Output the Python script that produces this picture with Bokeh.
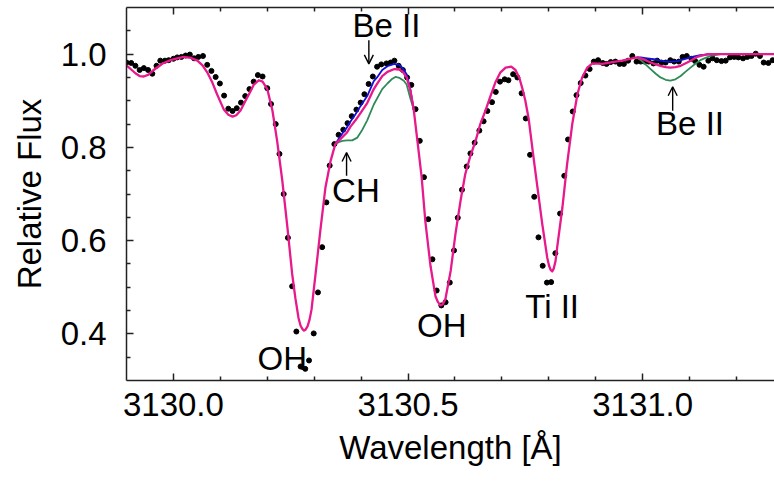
from bokeh.plotting import figure
from bokeh.models import (ColumnDataSource, FixedTicker, PrintfTickFormatter,
                          LinearAxis, Arrow, OpenHead, Range1d)
from bokeh.core.properties import value
from bokeh.embed import file_html
from bokeh.resources import INLINE

# ---------------- data ----------------
obs_wave = [3129.900, 3129.910, 3129.919, 3129.928, 3129.937, 3129.946, 3129.955, 3129.964,
            3129.972, 3129.982, 3129.990, 3130.000, 3130.008, 3130.017, 3130.026, 3130.035,
            3130.044, 3130.053, 3130.063, 3130.072, 3130.081, 3130.090, 3130.099, 3130.108,
            3130.117, 3130.126, 3130.135, 3130.144, 3130.153, 3130.162, 3130.171, 3130.180,
            3130.190, 3130.200, 3130.208, 3130.218, 3130.226, 3130.235, 3130.244, 3130.253,
            3130.262, 3130.271, 3130.281, 3130.289, 3130.299, 3130.308, 3130.317, 3130.326,
            3130.333, 3130.343, 3130.352, 3130.362, 3130.371, 3130.380, 3130.390, 3130.399,
            3130.407, 3130.416, 3130.425, 3130.434, 3130.443, 3130.454, 3130.463, 3130.471,
            3130.480, 3130.489, 3130.498, 3130.507, 3130.516, 3130.525, 3130.534, 3130.543,
            3130.552, 3130.561, 3130.571, 3130.580, 3130.589, 3130.598, 3130.606, 3130.615,
            3130.625, 3130.633, 3130.642, 3130.652, 3130.661, 3130.669, 3130.679, 3130.687,
            3130.696, 3130.706, 3130.714, 3130.724, 3130.733, 3130.742, 3130.751, 3130.760,
            3130.769, 3130.778, 3130.787, 3130.796, 3130.805, 3130.814, 3130.824, 3130.833,
            3130.841, 3130.851, 3130.859, 3130.868, 3130.878, 3130.887, 3130.896, 3130.905,
            3130.915, 3130.923, 3130.932, 3130.942, 3130.951, 3130.960, 3130.969, 3130.978,
            3130.987, 3130.996, 3131.004, 3131.013, 3131.023, 3131.031, 3131.040, 3131.049,
            3131.059, 3131.067, 3131.077, 3131.085, 3131.094, 3131.104, 3131.112, 3131.121,
            3131.130, 3131.140, 3131.149, 3131.158, 3131.168, 3131.177, 3131.186, 3131.195,
            3131.204, 3131.214, 3131.223, 3131.232, 3131.241, 3131.250, 3131.258, 3131.268,
            3131.277]
obs_flux = [0.982, 0.981, 0.975, 0.966, 0.970, 0.966, 0.958, 0.975,
            0.986, 0.986, 0.987, 0.990, 0.993, 0.994, 0.997, 0.999,
            0.991, 0.994, 0.996, 0.977, 0.964, 0.951, 0.937, 0.911,
            0.883, 0.878, 0.884, 0.896, 0.910, 0.925, 0.941, 0.955,
            0.952, 0.927, 0.893, 0.850, 0.786, 0.700, 0.606, 0.502,
            0.405, 0.330, 0.325, 0.343, 0.401, 0.489, 0.586, 0.682,
            0.761, 0.807, 0.827, 0.838, 0.852, 0.867, 0.881, 0.896,
            0.914, 0.936, 0.952, 0.973, 0.978, 0.980, 0.982, 0.986,
            0.975, 0.966, 0.950, 0.934, 0.882, 0.814, 0.736, 0.646,
            0.560, 0.493, 0.461, 0.468, 0.510, 0.579, 0.649, 0.709,
            0.759, 0.787, 0.810, 0.836, 0.856, 0.878, 0.897, 0.919,
            0.941, 0.946, 0.944, 0.957, 0.950, 0.916, 0.862, 0.784,
            0.694, 0.607, 0.546, 0.510, 0.511, 0.573, 0.658, 0.739,
            0.817, 0.877, 0.912, 0.938, 0.954, 0.968, 0.984, 0.987,
            0.981, 0.979, 0.983, 0.984, 0.979, 0.979, 0.986, 0.996,
            0.984, 0.984, 0.984, 0.984, 0.980, 0.986, 0.982, 0.982,
            0.987, 0.984, 0.984, 0.994, 0.996, 0.990, 0.985, 0.977,
            0.973, 0.986, 0.991, 0.987, 0.985, 0.986, 0.993, 0.994,
            0.993, 0.991, 0.994, 0.996, 1.001, 0.996, 0.982, 0.981,
            0.987]

# best-fit synthetic spectrum (magenta)
fit_wave = [3129.900, 3129.910, 3129.919, 3129.928, 3129.937, 3129.947, 3129.958, 3129.977,
            3129.994, 3130.008, 3130.022, 3130.037, 3130.051, 3130.062, 3130.072, 3130.083,
            3130.093, 3130.107, 3130.117, 3130.126, 3130.134, 3130.143, 3130.152, 3130.161,
            3130.171, 3130.182, 3130.190, 3130.200, 3130.211, 3130.221, 3130.232, 3130.243,
            3130.253, 3130.260, 3130.2666, 3130.2708, 3130.2751, 3130.2783, 3130.2815, 3130.2858,
            3130.2900, 3130.2943, 3130.303, 3130.313, 3130.324, 3130.335, 3130.345, 3130.352,
            3130.360, 3130.370, 3130.377, 3130.388, 3130.399, 3130.413, 3130.427, 3130.434,
            3130.445, 3130.456, 3130.471, 3130.481, 3130.488, 3130.497, 3130.505, 3130.512,
            3130.520, 3130.529, 3130.537, 3130.548, 3130.5586, 3130.5639, 3130.5692, 3130.5746,
            3130.5799, 3130.591, 3130.601, 3130.612, 3130.622, 3130.633, 3130.644, 3130.654,
            3130.665, 3130.676, 3130.686, 3130.697, 3130.708, 3130.720, 3130.729, 3130.737,
            3130.744, 3130.750, 3130.757, 3130.766, 3130.772, 3130.786, 3130.7966, 3130.8005,
            3130.8041, 3130.8073, 3130.8105, 3130.8143, 3130.8179, 3130.829, 3130.839, 3130.850,
            3130.861, 3130.871, 3130.882, 3130.893, 3130.914, 3130.935, 3130.956, 3130.978,
            3130.988, 3130.996, 3131.006, 3131.017, 3131.028, 3131.038, 3131.049, 3131.059,
            3131.070, 3131.081, 3131.095, 3131.102, 3131.116, 3131.138, 3131.166, 3131.281]
fit_flux = [0.976, 0.967, 0.959, 0.953, 0.952, 0.956, 0.966, 0.980,
            0.987, 0.991, 0.994, 0.992, 0.986, 0.976, 0.961, 0.939,
            0.914, 0.882, 0.870, 0.866, 0.869, 0.879, 0.897, 0.914,
            0.934, 0.944, 0.941, 0.925, 0.879, 0.814, 0.729, 0.628,
            0.529, 0.476, 0.434, 0.418, 0.410, 0.407, 0.409, 0.416,
            0.430, 0.452, 0.529, 0.621, 0.714, 0.771, 0.807, 0.814,
            0.822, 0.832, 0.844, 0.858, 0.874, 0.895, 0.925, 0.936,
            0.953, 0.962, 0.968, 0.967, 0.963, 0.950, 0.922, 0.882,
            0.814, 0.736, 0.640, 0.545, 0.480, 0.468, 0.461, 0.464,
            0.476, 0.536, 0.614, 0.686, 0.743, 0.782, 0.814, 0.850,
            0.879, 0.911, 0.939, 0.961, 0.971, 0.973, 0.966, 0.950,
            0.925, 0.900, 0.862, 0.790, 0.743, 0.636, 0.564, 0.546,
            0.537, 0.534, 0.540, 0.556, 0.586, 0.671, 0.764, 0.850,
            0.914, 0.950, 0.971, 0.980, 0.979, 0.983, 0.986, 0.991,
            0.993, 0.991, 0.987, 0.982, 0.978, 0.975, 0.972, 0.971,
            0.972, 0.975, 0.982, 0.986, 0.994, 1.000, 1.000, 1.000]

# low-Be synthetic spectrum (blue), where it departs from the fit
lowbe_wave_a = [3130.345, 3130.352, 3130.360, 3130.370, 3130.377, 3130.388, 3130.399, 3130.413,
                3130.427, 3130.434, 3130.445, 3130.456, 3130.471, 3130.481, 3130.488, 3130.497,
                3130.505, 3130.512]
lowbe_flux_a = [0.807, 0.818, 0.830, 0.843, 0.855, 0.871, 0.889, 0.910,
                0.942, 0.950, 0.966, 0.974, 0.979, 0.977, 0.971, 0.957,
                0.924, 0.882]
lowbe_wave_b = [3130.988, 3130.996, 3131.010, 3131.024, 3131.038, 3131.052, 3131.063, 3131.074,
                3131.095, 3131.110, 3131.123, 3131.152, 3131.166]
lowbe_flux_b = [0.993, 0.993, 0.991, 0.989, 0.986, 0.984, 0.984, 0.985,
                0.991, 0.995, 0.998, 1.000, 1.000]

# high-Be synthetic spectrum (green), where it departs from the fit
highbe_wave_a = [3130.345, 3130.352, 3130.360, 3130.370, 3130.381, 3130.392, 3130.401, 3130.413,
                 3130.427, 3130.445, 3130.456, 3130.465, 3130.473, 3130.482, 3130.491, 3130.497,
                 3130.505, 3130.512]
highbe_flux_a = [0.807, 0.811, 0.814, 0.815, 0.815, 0.821, 0.835, 0.858,
                 0.892, 0.925, 0.937, 0.946, 0.951, 0.949, 0.943, 0.935,
                 0.905, 0.882]
highbe_wave_b = [3130.988, 3130.996, 3131.006, 3131.017, 3131.028, 3131.038, 3131.049, 3131.059,
                 3131.070, 3131.081, 3131.091, 3131.102, 3131.113, 3131.123, 3131.134, 3131.145,
                 3131.166]
highbe_flux_b = [0.993, 0.987, 0.978, 0.968, 0.958, 0.950, 0.945, 0.943,
                 0.946, 0.953, 0.962, 0.971, 0.980, 0.987, 0.992, 0.996,
                 1.000]

# line identifications (text baseline positions)
label_text = ["Be II", "CH", "OH", "OH", "Ti II", "Be II"]
label_wave = [3130.454, 3130.389, 3130.232, 3130.572, 3130.807, 3131.101]
label_flux = [1.062, 0.708, 0.3475, 0.419, 0.458, 0.851]
arrow_wave = [3130.4165, 3130.369, 3131.064]
arrow_from = [1.030, 0.739, 0.8785]
arrow_to = [0.979, 0.789, 0.930]

x_major = [3130.0, 3130.5, 3131.0]
x_minor = [3130.1, 3130.2, 3130.3, 3130.4, 3130.6, 3130.7, 3130.8, 3130.9, 3131.1, 3131.2]
y_major = [0.4, 0.6, 0.8, 1.0]
y_minor = [0.35, 0.45, 0.5, 0.55, 0.65, 0.7, 0.75, 0.85, 0.9, 0.95, 1.05]

# ---------------- figure ----------------
FONT = "Liberation Sans"
FS = "33px"

p = figure(width=774, height=493, output_backend="svg", toolbar_location=None,
           x_range=Range1d(3129.9, 3131.281), y_range=Range1d(0.3, 1.1),
           x_axis_location=None, y_axis_location=None,
           min_border_left=126, min_border_right=0, min_border_top=7, min_border_bottom=113)
p.grid.visible = False
p.outline_line_color = None
p.background_fill_color = "white"
p.border_fill_color = "white"


def style_axis(ax, labels=True):
    ax.axis_line_color = "#222222"
    ax.axis_line_width = 1.5
    ax.major_tick_line_color = "#222222"
    ax.minor_tick_line_color = "#222222"
    ax.major_tick_line_width = 1.5
    ax.minor_tick_line_width = 1.5
    ax.major_tick_in = 7
    ax.major_tick_out = 0
    ax.minor_tick_in = 4
    ax.minor_tick_out = 0
    ax.major_label_text_font = FONT
    ax.axis_label_text_font = FONT
    ax.axis_label_text_font_style = "normal"
    ax.axis_label_text_color = "black"
    ax.major_label_text_color = "black"
    if labels:
        ax.major_label_text_font_size = FS
        ax.axis_label_text_font_size = FS
    else:
        ax.major_label_text_font_size = "1px"
        ax.major_label_text_alpha = 0
        ax.major_label_standoff = 0


xb = LinearAxis(axis_label="Wavelength [Å]",
                ticker=FixedTicker(ticks=x_major, minor_ticks=x_minor),
                formatter=PrintfTickFormatter(format="%.1f"))
style_axis(xb)
xb.major_label_standoff = 12
xb.axis_label_standoff = 10
p.add_layout(xb, "below")

xt = LinearAxis(ticker=FixedTicker(ticks=x_major, minor_ticks=x_minor))
style_axis(xt, labels=False)
p.add_layout(xt, "above")

yl = LinearAxis(axis_label="Relative Flux",
                ticker=FixedTicker(ticks=y_major, minor_ticks=y_minor),
                formatter=PrintfTickFormatter(format="%.1f"))
style_axis(yl)
yl.major_label_standoff = 20
yl.axis_label_standoff = 10
p.add_layout(yl, "left")

# observed spectrum
p.scatter(obs_wave, obs_flux, size=5, color="black")

# synthetic spectra
p.multi_line([highbe_wave_a, highbe_wave_b], [highbe_flux_a, highbe_flux_b],
             line_color="#2e8b57", line_width=1.8, line_join="round")
p.multi_line([lowbe_wave_a, lowbe_wave_b], [lowbe_flux_a, lowbe_flux_b],
             line_color="#1010d8", line_width=1.8, line_join="round")
p.line(fit_wave, fit_flux, line_color="#e8198b", line_width=2.3, line_join="round")

# identifications
lab = ColumnDataSource(dict(x=label_wave, y=label_flux, t=label_text))
p.text(x="x", y="y", text="t", source=lab, text_font=value(FONT),
       text_font_size=FS, text_align="center", text_baseline="alphabetic",
       text_color="black")
for w, f0, f1 in zip(arrow_wave, arrow_from, arrow_to):
    p.add_layout(Arrow(x_start=w, y_start=f0, x_end=w, y_end=f1,
                       line_color="black", line_width=1.4,
                       end=OpenHead(size=9, line_color="black", line_width=1.4)))

open("out.html", "w").write(file_html(p, INLINE))
